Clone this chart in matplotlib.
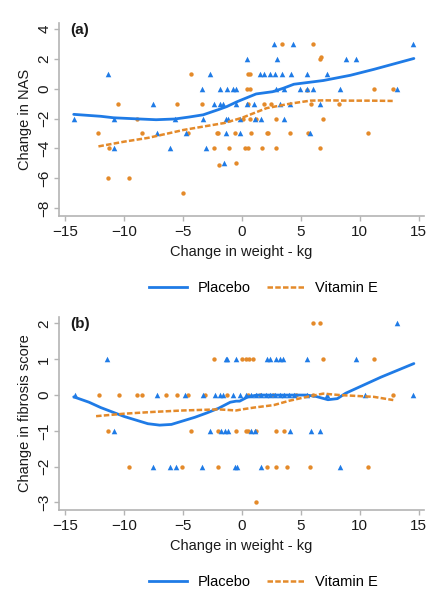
import matplotlib
matplotlib.use("Agg")
import matplotlib.pyplot as plt
from matplotlib.lines import Line2D

plt.rcParams['font.family'] = ['Liberation Sans', 'DejaVu Sans']

# ---------------- Panel (a): Change in NAS ----------------
a_plac_x = [-14.3, -11.4, -10.9, -10.9, -7.6, -7.25, -6.1, -5.7, -4.8, -3.4, -3.3, -3.1, -2.7, -2.4,
            -1.9, -1.9, -1.4, -1.2, -1.5, -1.4, -1.3, -1.6, -0.8, -0.5, -0.5, -0.17, -0.17, 0.4, 0.4,
            1.0, 1.1, 1.65, 1.5, 1.9, 2.4, 2.8, 3.4, 2.7, 3.0, 3.6, 3.6, 3.2, 4.1, 4.2, 4.3, 4.9, 5.5,
            6.0, 5.5, 5.8, 6.6, 7.2, 8.3, 8.8, 9.7, 13.2, 14.5, 2.9]
a_plac_y = [-2, 1, -2, -4, -1, -3, -4, -2, -3, 0, -2, -4, 1, -1,
            -1, 0, -2, -2, -5, -3, 0, -1, 0, 0, -1, -2, -3, 2, -1,
            -1, -2, -2, 1, 1, 1, 1, 1, 3, 2, 0, -2, -1, -1, 1, 3, 0, 0,
            0, 1, -3, -1, 1, 0, 2, 2, 0, 3, 0]

a_vite_x = [-12.2, -11.3, -11.4, -10.5, -9.6, -8.9, -8.5, -5.5, -5.05, -4.55, -4.3, -3.4, -2.35,
            -2.15, -2.0, -1.95, -1.1, -0.6, -0.5, 0.25, 0.5, 0.4, 0.65, 0.5, 0.7, 0.5, 0.8, 0.7,
            1.2, 1.9, 2.1, 2.2, 1.7, 2.9, 2.9, 3.4, 4.1, 5.5, 5.6, 6.0, 6.6, 6.7, 6.6, 6.9, 5.9,
            8.2, 10.7, 11.2, 12.8, 2.5, 0.1]
a_vite_y = [-3, -4, -6, -1, -6, -2, -3, -1, -7, -3, 1, -1, -4,
            -3, -3, -5.1, -4, -3, -5, -4, -4, 0, 0, 1, 1, -1, -3, -2,
            -2, -1, -3, -3, -4, -4, -2, 3, -3, -0.1, -3, 3, 2, 2.1, -4, -2, -1,
            -1, -3, 0, 0, -1, -2]

a_plac_fit_x = [-14.3, -12, -10.9, -9, -7.3, -5.7, -4.5, -3.3, -2, -1.3, -0.5, -0.2, 1.2, 2.6, 3.5,
                4.4, 6.9, 9.2, 11.2, 14.6]
a_plac_fit_y = [-1.72, -1.85, -1.95, -2.02, -2.08, -2.03, -1.9, -1.75, -1.4, -1.2, -0.9, -0.8, -0.35,
                -0.2, 0.03, 0.3, 0.55, 0.9, 1.3, 2.03]
a_vite_fit_x = [-12.2, -10, -8, -6, -5, -3, -1.5, 0, 2.1, 4.1, 5.8, 7, 9, 11, 12.8]
a_vite_fit_y = [-3.87, -3.55, -3.3, -2.95, -2.77, -2.5, -2.3, -1.95, -1.3, -1.0, -0.8, -0.78, -0.8,
                -0.8, -0.82]

# ---------------- Panel (b): Change in fibrosis score ----------------
b_plac_x = [13.2,
            -11.5, -1.36, -1.25, -0.5, 2.1, 2.4, 2.9, 3.2, 3.5, 5.5, 9.7,
            -14.2, -7.25, -4.85, -3.3, -2.3, -1.9, -1.6, -0.74, -0.17, 0.3, 0.8, 1.2, 1.6, 2.0, 2.4,
            2.8, 3.2, 3.6, 4.0, 4.4, 5.5, 7.25, 10.45, 14.55,
            -10.9, -2.7, -1.75, -1.45, -1.2, 0.8, 1.1, 4.1, 5.9, 6.6,
            -7.6, -6.1, -5.65, -3.4, -0.6, -0.4, 1.65, 8.3]
b_plac_y = [2,
            1, 1, 1, 1, 1, 1, 1, 1, 1, 1, 1,
            0, 0, 0, 0, 0, 0, 0, 0, 0, 0, 0, 0, 0, 0, 0,
            0, 0, 0, 0, 0, 0, 0, 0, 0,
            -1, -1, -1, -1, -1, -1, -1, -1, -1, -1,
            -2, -2, -2, -2, -2, -2, -2, -2]

b_vite_x = [6.0, 6.6,
            -2.35, -0.03, 0.3, 0.6, 0.9, 6.9, 11.2,
            -12.15, -10.45, -8.95, -8.5, -6.5, -5.5, -4.55, -3.15, -1.3, 0.5, 1.5, 2.6, 4.6, 6.0, 12.85,
            -11.4, -4.3, -2.0, -0.5, 0.3, 0.5, 1.2, 2.85, 3.55,
            -9.6, -5.1, -2.0, 2.1, 2.85, 3.85, 5.8, 10.7,
            1.15]
b_vite_y = [2, 2,
            1, 1, 1, 1, 1, 1, 1,
            0, 0, 0, 0, 0, 0, 0, 0, 0, 0, 0, 0, 0, 0, 0,
            -1, -1, -1, -1, -1, -1, -1, -1, -1,
            -2, -2, -2, -2, -2, -2, -2, -2,
            -3]

b_plac_fit_x = [-14.3, -13, -12, -10, -8, -7, -6, -5, -4, -3, -2, -1, -0.5, -0.2, 0.5, 1.25, 5.5,
                6.3, 7.3, 8.1, 8.8, 9.8, 11.8, 14.6]
b_plac_fit_y = [-0.05, -0.2, -0.35, -0.6, -0.8, -0.84, -0.82, -0.72, -0.62, -0.5, -0.37, -0.2,
                -0.17, -0.17, -0.05, 0, 0, -0.04, -0.13, -0.1, 0.05, 0.2, 0.5, 0.88]
b_vite_fit_x = [-12.4, -10, -7.5, -5, -2, -0.5, 0, 1, 2.7, 4, 5.5, 6.9, 8.3, 11.2, 12.85]
b_vite_fit_y = [-0.59, -0.52, -0.47, -0.43, -0.4, -0.43, -0.4, -0.35, -0.28, -0.16, -0.05, 0.04,
                0.0, -0.05, -0.14]

x_ticks = [-15, -10, -5, 0, 5, 10, 15]
a_yticks = [4, 2, 0, -2, -4, -6, -8]
b_yticks = [2, 1, 0, -1, -2, -3]
series_names = ["Placebo", "Vitamin E"]

BLUE = "#1f7be6"
ORANGE = "#e48a2a"
SPINE = "#b4b4b4"
TXT = "#1a1a1a"

W, H = 444, 600
fig = plt.figure(figsize=(W / 100, H / 100), dpi=100)


def px_axes(left, top, right, bottom):
    return fig.add_axes([left / W, 1 - bottom / H, (right - left) / W, (bottom - top) / H])


def style(ax, xlim, ylim, yticks, ylabel, tag):
    ax.set_xlim(*xlim)
    ax.set_ylim(*ylim)
    ax.set_xticks(x_ticks)
    ax.set_xticklabels([str(t).replace('-', '\u2212') for t in x_ticks])
    ax.set_yticks(yticks)
    ax.set_yticklabels([str(t).replace('-', '\u2212') for t in yticks], rotation=90, va='center')
    for s in ['top', 'right']:
        ax.spines[s].set_visible(False)
    for s in ['left', 'bottom']:
        ax.spines[s].set_color(SPINE)
        ax.spines[s].set_linewidth(1.2)
    ax.tick_params(axis='both', colors=SPINE, labelcolor=TXT, labelsize=11, length=3.5, width=1.0)
    ax.tick_params(axis='y', pad=2)
    ax.tick_params(axis='x', pad=3)
    ax.set_xlabel("Change in weight - kg", fontsize=10.5, color=TXT, labelpad=4)
    ax.set_ylabel(ylabel, fontsize=10.5, color=TXT, labelpad=4)
    ax.text(0.03, 1.0, tag, transform=ax.transAxes, fontsize=11, fontweight='bold', va='top',
            ha='left', color=TXT)


def draw(ax, px, py, vx, vy, pfx, pfy, vfx, vfy):
    ax.scatter(vx, vy, marker='o', s=10, color=ORANGE, linewidths=0, zorder=3)
    ax.scatter(px, py, marker='^', s=16, color=BLUE, linewidths=0, zorder=3)
    ax.plot(pfx, pfy, color=BLUE, lw=2.0, zorder=4, solid_capstyle='round')
    ax.plot(vfx, vfy, color=ORANGE, lw=1.8, ls=(0, (2.2, 0.9)), zorder=4)
    handles = [Line2D([], [], color=BLUE, lw=2.0),
               Line2D([], [], color=ORANGE, lw=1.8, ls=(0, (2.2, 0.9)))]
    ax.legend(handles, series_names, loc='upper center', bbox_to_anchor=(0.56, -0.27), ncol=2,
              frameon=False, fontsize=10.5, handlelength=2.6, columnspacing=1.1, handletextpad=0.7)


axa = px_axes(59, 23, 424, 216)
draw(axa, a_plac_x, a_plac_y, a_vite_x, a_vite_y, a_plac_fit_x, a_plac_fit_y, a_vite_fit_x, a_vite_fit_y)
style(axa, (-15.55, 15.46), (-8.54, 4.41), a_yticks, "Change in NAS", "(a)")

axb = px_axes(59, 317, 424, 510)
draw(axb, b_plac_x, b_plac_y, b_vite_x, b_vite_y, b_plac_fit_x, b_plac_fit_y, b_vite_fit_x, b_vite_fit_y)
style(axb, (-15.55, 15.46), (-3.21, 2.18), b_yticks, "Change in fibrosis score", "(b)")

fig.savefig("out.png", dpi=100)
